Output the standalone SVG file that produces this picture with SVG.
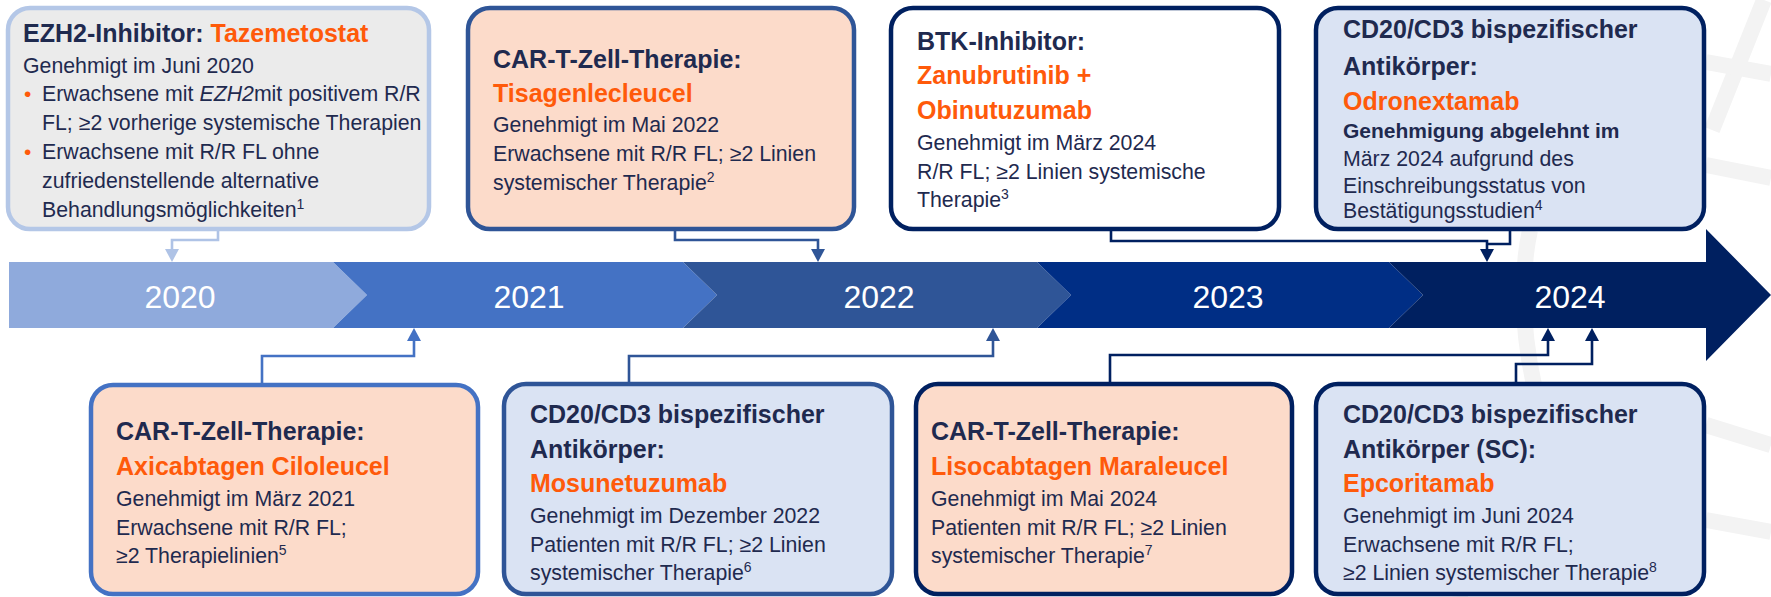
<svg xmlns="http://www.w3.org/2000/svg" width="1771" height="597" viewBox="0 0 1771 597">
<style>
.t{font-family:"Liberation Sans",Arial,sans-serif;font-weight:bold;font-size:25px;fill:#1F2A4F}
.o{font-family:"Liberation Sans",Arial,sans-serif;font-weight:bold;font-size:25px;fill:#FF5A0A}
.b{font-family:"Liberation Sans",Arial,sans-serif;font-size:21.3px;fill:#1F2A4F}
.bb{font-family:"Liberation Sans",Arial,sans-serif;font-weight:bold;font-size:21px;fill:#1F2A4F}
.bul{font-family:"Liberation Sans",Arial,sans-serif;font-size:21px;fill:#FF5A0A}
.s{font-size:14px}
.yr{font-family:"Liberation Sans",Arial,sans-serif;font-size:32px;fill:#FFFFFF;text-anchor:middle}
.box{stroke-width:4.5}
.peach{fill:#FCDBCA}
.lb{fill:#DAE3F3}
.c{fill:none;stroke-width:2.6}
.wm{fill:none;stroke:#F3F3F3;stroke-width:16}
</style>
<defs>
<marker id="mA" viewBox="0 0 13 14" refX="0" refY="7" markerWidth="13" markerHeight="14" markerUnits="userSpaceOnUse" orient="auto"><path d="M0,0 L13,7 L0,14 Z" fill="#AFC3E6"/></marker>
<marker id="mB" viewBox="0 0 13 14" refX="0" refY="7" markerWidth="13" markerHeight="14" markerUnits="userSpaceOnUse" orient="auto"><path d="M0,0 L13,7 L0,14 Z" fill="#4472C4"/></marker>
<marker id="mC" viewBox="0 0 13 14" refX="0" refY="7" markerWidth="13" markerHeight="14" markerUnits="userSpaceOnUse" orient="auto"><path d="M0,0 L13,7 L0,14 Z" fill="#2F5597"/></marker>
<marker id="mD" viewBox="0 0 13 14" refX="0" refY="7" markerWidth="13" markerHeight="14" markerUnits="userSpaceOnUse" orient="auto"><path d="M0,0 L13,7 L0,14 Z" fill="#002060"/></marker>
</defs>
<rect width="1771" height="597" fill="#FFFFFF"/>
<g id="watermark">
<path class="wm" d="M1764,0 L1712,130"/>
<path class="wm" d="M1706,62 L1771,74"/>
<path class="wm" d="M1706,165 L1771,178"/>
<path class="wm" d="M1706,425 L1771,445"/>
<path class="wm" d="M1706,520 L1771,532"/>
<path class="wm" d="M1530,230 Q1515,300 1535,390"/>
<path class="wm" d="M1460,597 Q1470,470 1520,385"/>
</g>
<g id="timeline">
<path d="M9,262 H333 L367,295 L333,328 H9 Z" fill="#8FAADC"/>
<path d="M333,262 H683 L717,295 L683,328 H333 L367,295 Z" fill="#4472C4"/>
<path d="M683,262 H1037 L1071,295 L1037,328 H683 L717,295 Z" fill="#2F5597"/>
<path d="M1037,262 H1389 L1423,295 L1389,328 H1037 L1071,295 Z" fill="#002E85"/>
<path d="M1389,262 H1706 V229 L1771,295 L1706,361 V328 H1389 L1423,295 Z" fill="#002060"/>
<text class="yr" x="180" y="308">2020</text>
<text class="yr" x="529" y="308">2021</text>
<text class="yr" x="879" y="308">2022</text>
<text class="yr" x="1228" y="308">2023</text>
<text class="yr" x="1570" y="308">2024</text>
</g>
<g id="connectors">
<path class="c" stroke="#AFC3E6" d="M218,230 V240 H172 V249" marker-end="url(#mA)"/>
<path class="c" stroke="#2F5597" d="M675,230 V240 H818 V249" marker-end="url(#mC)"/>
<path class="c" stroke="#002060" d="M1111,230 V241 H1487 V249" marker-end="url(#mD)"/>
<path class="c" stroke="#002060" d="M1510,230 V244 H1487"/>
<path class="c" stroke="#4472C4" d="M262,385 V356 H414 V341" marker-end="url(#mB)"/>
<path class="c" stroke="#2F5597" d="M629,384 V356 H993 V341" marker-end="url(#mC)"/>
<path class="c" stroke="#002060" d="M1110,384 V355 H1548 V341" marker-end="url(#mD)"/>
<path class="c" stroke="#002060" d="M1516,384 V364 H1592 V341" marker-end="url(#mD)"/>
</g>
<g id="n-tazemetostat">
<rect class="box" x="8" y="8" width="421" height="221" rx="22" fill="#EBEBEB" stroke="#B4C7E7"/>
<text x="23" y="42"><tspan class="t">EZH2-Inhibitor: </tspan><tspan class="o">Tazemetostat</tspan></text>
<text class="b" x="23" y="73">Genehmigt im Juni 2020</text>
<text class="bul" x="24" y="101">•</text>
<text class="b" x="42" y="101">Erwachsene mit <tspan font-style="italic">EZH2</tspan>mit positivem R/R</text>
<text class="b" x="42" y="130">FL; ≥2 vorherige systemische Therapien</text>
<text class="bul" x="24" y="159">•</text>
<text class="b" x="42" y="159">Erwachsene mit R/R FL ohne</text>
<text class="b" x="42" y="188">zufriedenstellende alternative</text>
<text class="b" x="42" y="217">Behandlungsmöglichkeiten<tspan class="s" dy="-8">1</tspan></text>
</g>
<g id="n-tisagenlecleucel">
<rect class="box peach" x="468" y="8" width="386" height="221" rx="22" stroke="#2F5597"/>
<text class="t" x="493" y="68">CAR-T-Zell-Therapie:</text>
<text class="o" x="493" y="102">Tisagenlecleucel</text>
<text class="b" x="493" y="132">Genehmigt im Mai 2022</text>
<text class="b" x="493" y="161">Erwachsene mit R/R FL; ≥2 Linien</text>
<text class="b" x="493" y="190">systemischer Therapie<tspan class="s" dy="-8">2</tspan></text>
</g>
<g id="n-zanubrutinib">
<rect class="box" x="891" y="8" width="388" height="221" rx="22" fill="#FFFFFF" stroke="#002060"/>
<text class="t" x="917" y="50">BTK-Inhibitor:</text>
<text class="o" x="917" y="84">Zanubrutinib +</text>
<text class="o" x="917" y="119">Obinutuzumab</text>
<text class="b" x="917" y="150">Genehmigt im März 2024</text>
<text class="b" x="917" y="179">R/R FL; ≥2 Linien systemische</text>
<text class="b" x="917" y="207">Therapie<tspan class="s" dy="-8">3</tspan></text>
</g>
<g id="n-odronextamab">
<rect class="box lb" x="1316" y="8" width="388" height="221" rx="22" stroke="#002060"/>
<text class="t" x="1343" y="38">CD20/CD3 bispezifischer</text>
<text class="t" x="1343" y="75">Antikörper:</text>
<text class="o" x="1343" y="110">Odronextamab</text>
<text class="bb" x="1343" y="138">Genehmigung abgelehnt im</text>
<text class="b" x="1343" y="166">März 2024 aufgrund des</text>
<text class="b" x="1343" y="193">Einschreibungsstatus von</text>
<text class="b" x="1343" y="218">Bestätigungsstudien<tspan class="s" dy="-8">4</tspan></text>
</g>
<g id="n-axicabtagen">
<rect class="box peach" x="91" y="385" width="387" height="209" rx="22" stroke="#4472C4"/>
<text class="t" x="116" y="440">CAR-T-Zell-Therapie:</text>
<text class="o" x="116" y="475">Axicabtagen Ciloleucel</text>
<text class="b" x="116" y="506">Genehmigt im März 2021</text>
<text class="b" x="116" y="535">Erwachsene mit R/R FL;</text>
<text class="b" x="116" y="563">≥2 Therapielinien<tspan class="s" dy="-8">5</tspan></text>
</g>
<g id="n-mosunetuzumab">
<rect class="box lb" x="504" y="384" width="388" height="210" rx="22" stroke="#2F5597"/>
<text class="t" x="530" y="423">CD20/CD3 bispezifischer</text>
<text class="t" x="530" y="458">Antikörper:</text>
<text class="o" x="530" y="492">Mosunetuzumab</text>
<text class="b" x="530" y="523">Genehmigt im Dezember 2022</text>
<text class="b" x="530" y="552">Patienten mit R/R FL; ≥2 Linien</text>
<text class="b" x="530" y="580">systemischer Therapie<tspan class="s" dy="-8">6</tspan></text>
</g>
<g id="n-lisocabtagen">
<rect class="box peach" x="916" y="384" width="376" height="210" rx="22" stroke="#002060"/>
<text class="t" x="931" y="440">CAR-T-Zell-Therapie:</text>
<text class="o" x="931" y="475">Lisocabtagen Maraleucel</text>
<text class="b" x="931" y="506">Genehmigt im Mai 2024</text>
<text class="b" x="931" y="535">Patienten mit R/R FL; ≥2 Linien</text>
<text class="b" x="931" y="563">systemischer Therapie<tspan class="s" dy="-8">7</tspan></text>
</g>
<g id="n-epcoritamab">
<rect class="box lb" x="1316" y="384" width="388" height="210" rx="22" stroke="#002060"/>
<text class="t" x="1343" y="423">CD20/CD3 bispezifischer</text>
<text class="t" x="1343" y="458">Antikörper (SC):</text>
<text class="o" x="1343" y="492">Epcoritamab</text>
<text class="b" x="1343" y="523">Genehmigt im Juni 2024</text>
<text class="b" x="1343" y="552">Erwachsene mit R/R FL;</text>
<text class="b" x="1343" y="580">≥2 Linien systemischer Therapie<tspan class="s" dy="-8">8</tspan></text>
</g>
</svg>
